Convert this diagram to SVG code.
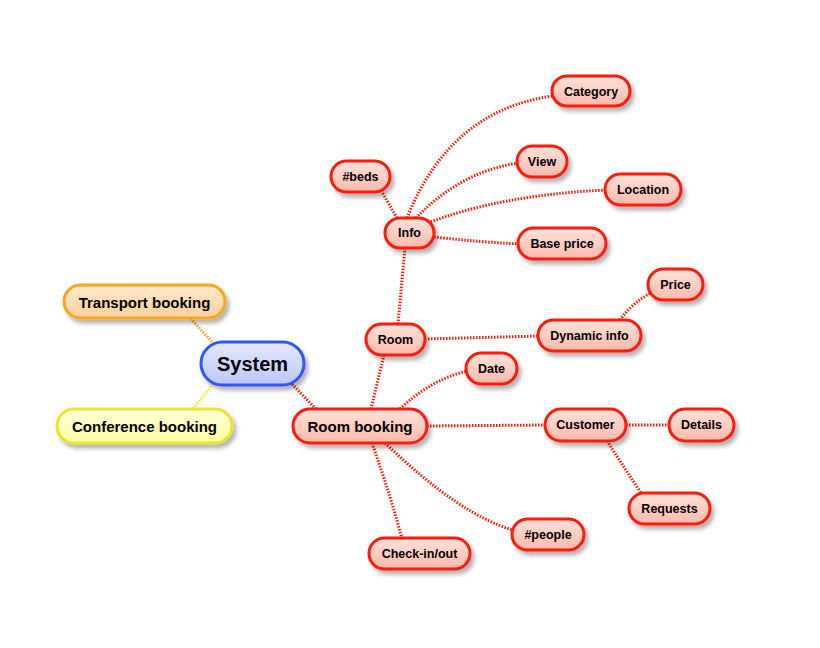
<svg xmlns="http://www.w3.org/2000/svg" width="820" height="648" viewBox="0 0 820 648">
<defs>
<linearGradient id="gr" x1="0" y1="0" x2="0" y2="1"><stop offset="0" stop-color="#ffe2da"/><stop offset="1" stop-color="#ffb9aa"/></linearGradient>
<linearGradient id="gb" x1="0" y1="0" x2="0" y2="1"><stop offset="0" stop-color="#e4e8ff"/><stop offset="1" stop-color="#bcc6ff"/></linearGradient>
<linearGradient id="go" x1="0" y1="0" x2="0" y2="1"><stop offset="0" stop-color="#ffe9cf"/><stop offset="1" stop-color="#ffcf99"/></linearGradient>
<linearGradient id="gy" x1="0" y1="0" x2="0" y2="1"><stop offset="0" stop-color="#ffffdc"/><stop offset="1" stop-color="#ffff9e"/></linearGradient>
<filter id="sh" x="-20%" y="-30%" width="150%" height="180%"><feDropShadow dx="3" dy="4" stdDeviation="2" flood-color="#000" flood-opacity="0.3"/></filter>
</defs>
<style>
.n rect{stroke:#ff1a0a;stroke-width:3;fill:url(#gr);filter:url(#sh)}
.n text{font-family:"Liberation Sans",Arial,sans-serif;font-weight:bold;font-size:12.5px;fill:#000;text-anchor:middle;dominant-baseline:central}
.c path{fill:none;stroke:#ff1a0a;stroke-width:3;stroke-dasharray:1.5 1.5}
</style>
<rect width="820" height="648" fill="#fff"/>
<g class="c">
<path d="M214,344 L190,318" style="stroke:#f5a623"/>
<path d="M213,384 L193,409" style="stroke:#ecec30"/>
<path d="M290,382 L316,409"/>
<path d="M371,409 L384,355"/>
<path d="M398,324 L405,248"/>
<path d="M397,218 L382,192"/>
<path d="M407,218 Q450,110 553,96"/>
<path d="M416,218 Q460,172 518,163"/>
<path d="M428,223 Q500,195 606,190"/>
<path d="M434,237 Q480,242 519,244"/>
<path d="M425,339 L539,336"/>
<path d="M620,320 Q632,303 652,292"/>
<path d="M400,409 Q430,380 467,371"/>
<path d="M427,426 L546,425"/>
<path d="M626,425 L670,425"/>
<path d="M607,441 L641,493"/>
<path d="M385,443 Q460,515 513,530"/>
<path d="M372,443 Q392,500 402,539"/>
</g>
<g id="system" class="n"><rect x="201" y="342" width="103" height="43" rx="21.5" style="stroke:#3355ff;fill:url(#gb)"/><text x="252.5" y="364" style="font-size:20px">System</text></g>
<g id="transport" class="n"><rect x="64" y="285" width="161" height="33" rx="16.5" style="stroke:#f5a623;fill:url(#go)"/><text x="144.5" y="302" style="font-size:15px">Transport booking</text></g>
<g id="conference" class="n"><rect x="57" y="409" width="175" height="34" rx="17" style="stroke:#e6e62a;fill:url(#gy)"/><text x="144.5" y="426" style="font-size:15px">Conference booking</text></g>
<g id="roombooking" class="n"><rect x="293" y="409" width="134" height="34" rx="17"/><text x="360" y="426" style="font-size:15px">Room booking</text></g>
<g id="room" class="n"><rect x="366" y="324" width="59" height="31" rx="15.5"/><text x="395.5" y="339.5">Room</text></g>
<g id="info" class="n"><rect x="385" y="218" width="49" height="30" rx="15"/><text x="409.5" y="233">Info</text></g>
<g id="beds" class="n"><rect x="331" y="161" width="59" height="31" rx="15.5"/><text x="360.5" y="176.5">#beds</text></g>
<g id="category" class="n"><rect x="552" y="76" width="78" height="30" rx="15"/><text x="591" y="91.5">Category</text></g>
<g id="view" class="n"><rect x="517" y="146" width="50" height="31" rx="15.5"/><text x="542" y="161.5">View</text></g>
<g id="location" class="n"><rect x="605" y="174" width="76" height="31" rx="15.5"/><text x="643" y="189.5">Location</text></g>
<g id="baseprice" class="n"><rect x="518" y="228" width="88" height="31" rx="15.5"/><text x="562" y="243.5">Base price</text></g>
<g id="price" class="n"><rect x="648" y="269" width="55" height="31" rx="15.5"/><text x="675.5" y="284.5">Price</text></g>
<g id="dynamic" class="n"><rect x="538" y="320" width="103" height="31" rx="15.5"/><text x="589.5" y="335.5">Dynamic info</text></g>
<g id="date" class="n"><rect x="466" y="353" width="51" height="31" rx="15.5"/><text x="491.5" y="368.5">Date</text></g>
<g id="customer" class="n"><rect x="545" y="409" width="81" height="32" rx="16"/><text x="585.5" y="425">Customer</text></g>
<g id="details" class="n"><rect x="669" y="409" width="65" height="32" rx="16"/><text x="701.5" y="425">Details</text></g>
<g id="requests" class="n"><rect x="629" y="493" width="81" height="31" rx="15.5"/><text x="669.5" y="508.5">Requests</text></g>
<g id="people" class="n"><rect x="512" y="519" width="72" height="31" rx="15.5"/><text x="548" y="534.5">#people</text></g>
<g id="checkin" class="n"><rect x="369" y="538" width="101" height="31" rx="15.5"/><text x="419.5" y="553.5">Check-in/out</text></g>
</svg>
